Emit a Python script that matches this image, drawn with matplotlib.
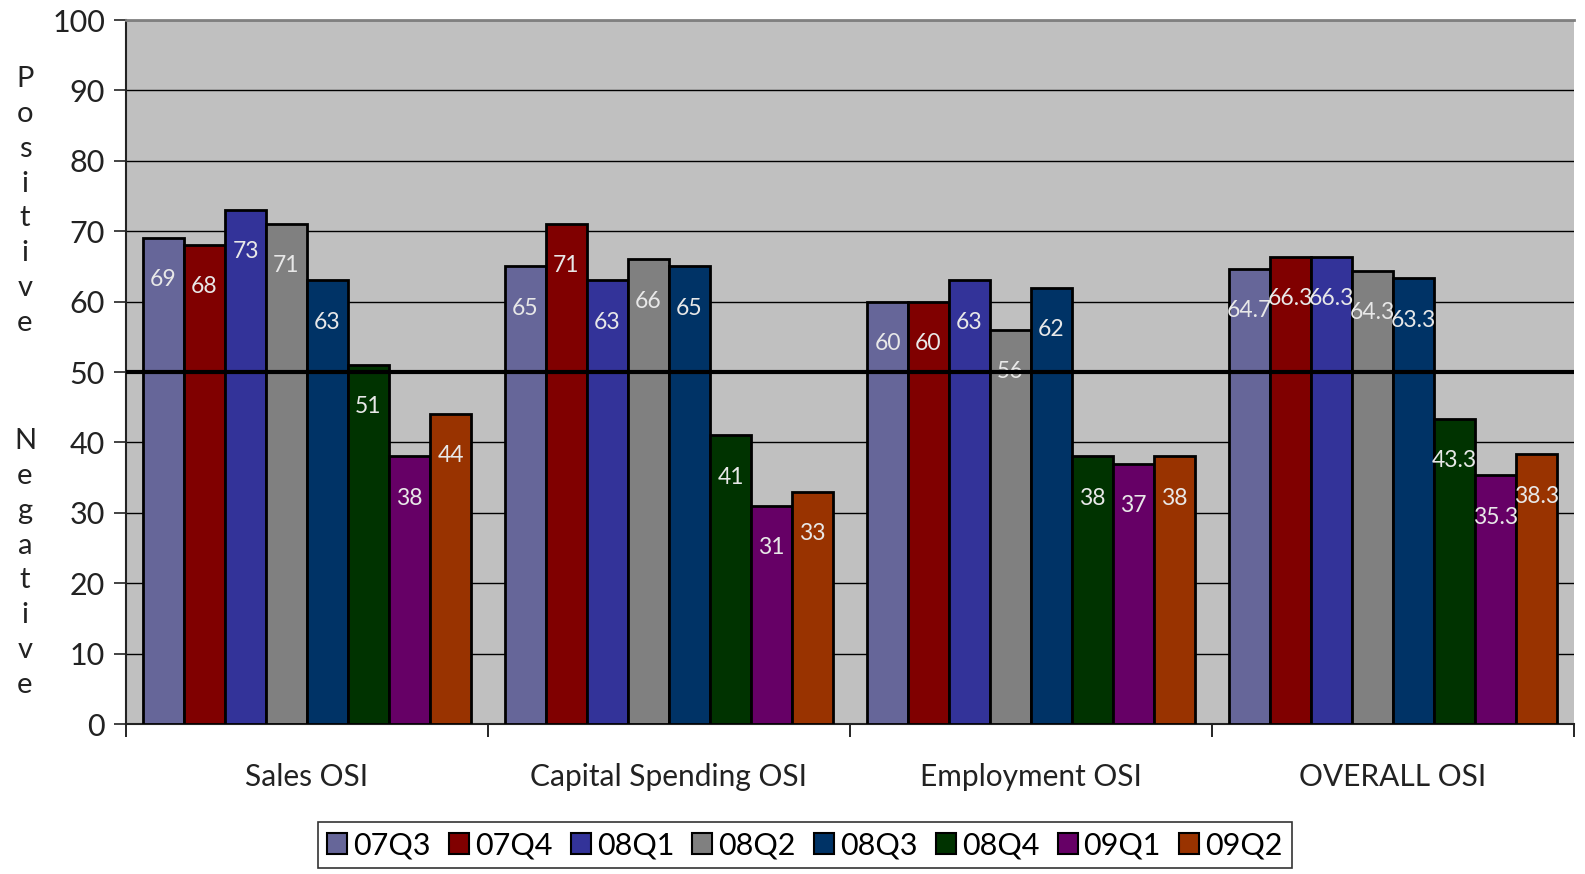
import numpy as np
import matplotlib
matplotlib.use("Agg")
import matplotlib.pyplot as plt

plt.rcParams['font.family'] = ['Lato', 'DejaVu Sans']

categories = ["Sales OSI", "Capital Spending OSI", "Employment OSI", "OVERALL OSI"]
quarters = ["07Q3", "07Q4", "08Q1", "08Q2", "08Q3", "08Q4", "09Q1", "09Q2"]
colors = ["#666699", "#800000", "#333399", "#808080",
          "#003366", "#003300", "#660066", "#993300"]

# one list per quarter, values across the four indices
q07q3 = [69, 65, 60, 64.7]
q07q4 = [68, 71, 60, 66.3]
q08q1 = [73, 63, 63, 66.3]
q08q2 = [71, 66, 56, 64.3]
q08q3 = [63, 65, 62, 63.3]
q08q4 = [51, 41, 38, 43.3]
q09q1 = [38, 31, 37, 35.3]
q09q2 = [44, 33, 38, 38.3]
series = [q07q3, q07q4, q08q1, q08q2, q08q3, q08q4, q09q1, q09q2]

fig = plt.figure(figsize=(15.85, 8.74), dpi=100)
ax = fig.add_axes([126/1585, 150/874, 1448/1585, 704/874])
ax.set_facecolor("#C0C0C0")

bw = 41/362
start = 17/362
for i, (vals, col, q) in enumerate(zip(series, colors, quarters)):
    x = np.arange(len(categories)) + start + i*bw
    ax.bar(x, vals, width=bw, align="edge", color=col,
           edgecolor="black", linewidth=2, label=q, zorder=3)
    for xx, v in zip(x, vals):
        ax.annotate("%g" % v, (xx + bw/2, v), xytext=(0, -30), textcoords="offset points",
                    ha="center", va="center", color="#E8E8E8", fontsize=16.5, zorder=4)

ax.axhline(50, color="black", linewidth=3, zorder=5)

ax.set_xlim(0, 4)
ax.set_ylim(0, 100)
ax.set_yticks(range(0, 101, 10))
ax.yaxis.grid(True, color="black", linewidth=1, zorder=0)
ax.set_axisbelow(True)
ax.tick_params(axis="y", direction="out", length=9, width=1.2, labelsize=22, pad=6, colors="#222222")

ax.set_xticks(range(0, 5))
ax.set_xticklabels([])
ax.set_xticks(np.arange(len(categories)) + 0.5, minor=True)
ax.set_xticklabels(categories, minor=True, fontsize=21.5)
ax.tick_params(axis="x", which="major", direction="out", length=9, width=1.2)
ax.tick_params(axis="x", which="minor", length=0, pad=28, colors="#222222")

for s in ["top", "right"]:
    ax.spines[s].set_visible(False)
ax.spines["left"].set_color("#222222")
ax.spines["left"].set_linewidth(1.5)
ax.spines["bottom"].set_color("#222222")
ax.spines["bottom"].set_linewidth(1.5)
ax.plot([0, 4], [100, 100], color="#808080", linewidth=2, clip_on=False, zorder=6)

fig.text(25/1585, 1 - 201/874, "\n".join("Positive"), ha="center", va="center",
         fontsize=21, linespacing=1.42, color="#222222")
fig.text(25/1585, 1 - 563/874, "\n".join("Negative"), ha="center", va="center",
         fontsize=21, linespacing=1.42, color="#222222")

leg = fig.legend(loc="upper center", bbox_to_anchor=(805/1585, 52/874), ncol=8,
                 fontsize=22, frameon=True, fancybox=False, edgecolor="black",
                 handlelength=0.65, handleheight=0.65, handletextpad=0.2,
                 columnspacing=0.6, borderpad=0.3, borderaxespad=0)
leg.get_frame().set_linewidth(1.2)
for h in leg.legend_handles:
    h.set_linewidth(1.5)

fig.savefig("out.png", dpi=100)
